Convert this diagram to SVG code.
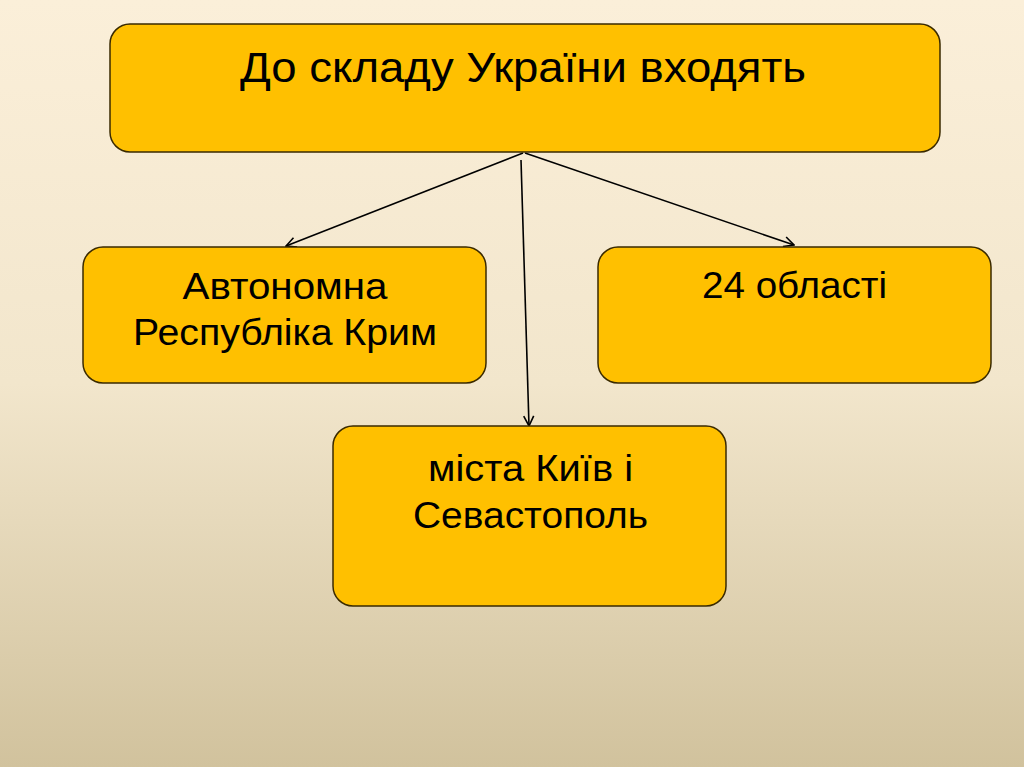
<svg xmlns="http://www.w3.org/2000/svg" width="1024" height="767" viewBox="0 0 1024 767">
<defs>
<linearGradient id="bg" x1="0" y1="0" x2="0" y2="1">
<stop offset="0" stop-color="#fbefd9"/>
<stop offset="0.5" stop-color="#f2e6cc"/>
<stop offset="1" stop-color="#d1c29d"/>
</linearGradient>
<marker id="arr" viewBox="0 0 12 12" refX="11" refY="6" markerWidth="12" markerHeight="12" markerUnits="userSpaceOnUse" orient="auto">
<path d="M1,1 L11,6 L1,11" fill="none" stroke="#000" stroke-width="1.6"/>
</marker>
<style>
.box{fill:#ffc000;stroke:#3a2a00;stroke-width:1.5}
.t{font-family:"Liberation Sans",Arial,sans-serif;fill:#000;text-anchor:middle}
.c{stroke:#000;stroke-width:1.6;fill:none}
</style>
</defs>
<rect x="0" y="0" width="1024" height="767" fill="url(#bg)"/>
<g id="connectors">
<line class="c" x1="523" y1="153" x2="286" y2="246" marker-end="url(#arr)"/>
<line class="c" x1="521" y1="160" x2="529" y2="426" marker-end="url(#arr)"/>
<line class="c" x1="525" y1="153" x2="794" y2="245" marker-end="url(#arr)"/>
</g>
<g id="top">
<rect class="box" x="110" y="24" width="830" height="128" rx="20"/>
<text class="t" x="523" y="82" font-size="43" textLength="566" lengthAdjust="spacingAndGlyphs">До складу України входять</text>
</g>
<g id="left">
<rect class="box" x="83" y="247" width="403" height="136" rx="20"/>
<text class="t" x="285" y="299" font-size="36" textLength="205" lengthAdjust="spacingAndGlyphs">Автономна</text>
<text class="t" x="285" y="345" font-size="36" textLength="304" lengthAdjust="spacingAndGlyphs">Республіка Крим</text>
</g>
<g id="right">
<rect class="box" x="598" y="247" width="393" height="136" rx="20"/>
<text class="t" x="794.5" y="298" font-size="36" textLength="185" lengthAdjust="spacingAndGlyphs">24 області</text>
</g>
<g id="bottom">
<rect class="box" x="333" y="426" width="393" height="180" rx="20"/>
<text class="t" x="530.5" y="481" font-size="36" textLength="205" lengthAdjust="spacingAndGlyphs">міста Київ і</text>
<text class="t" x="530.5" y="528" font-size="36" textLength="235" lengthAdjust="spacingAndGlyphs">Севастополь</text>
</g>
</svg>
